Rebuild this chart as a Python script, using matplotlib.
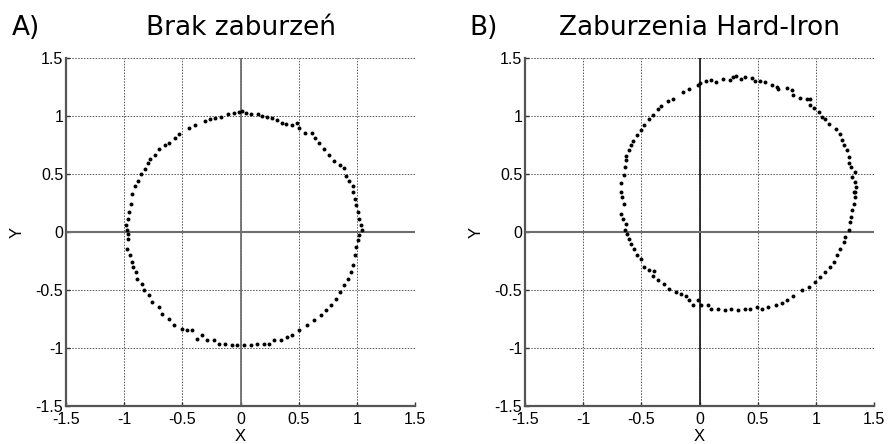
import matplotlib
matplotlib.use("Agg")
import matplotlib.pyplot as plt

# ---- data ----
ticks = [-1.5, -1, -0.5, 0, 0.5, 1, 1.5]
tick_labels = ["-1.5", "-1", "-0.5", "0", "0.5", "1", "1.5"]

titles = ["Brak zaburzeń", "Zaburzenia Hard-Iron"]
panel_labels = ["A)", "B)"]

a_x = [-0.977, -0.983, -0.968, -0.957, -0.940, -0.934, -0.905, -0.882, -0.853, -0.825,
       -0.796, -0.776, -0.739, -0.704, -0.647, -0.618, -0.566, -0.532, -0.440, -0.388,
       -0.307, -0.259, -0.216, -0.164, -0.106, -0.057, -0.014, 0.014, 0.049, 0.086,
       0.152, 0.187, 0.230, 0.273, 0.316, 0.359, 0.394, 0.440, 0.489, 0.503,
       0.555, 0.618, 0.641, 0.675, 0.718, 0.761, 0.805, 0.853, 0.891, 0.911,
       0.934, 0.968, 0.963, 0.986, 0.997, 1.006, 1.020, 1.034, 1.043,
       -0.963, -0.968, -0.977, -0.948, -0.934, -0.920, -0.899, -0.891, -0.848, -0.833,
       -0.790, -0.761, -0.704, -0.675, -0.618, -0.575, -0.503, -0.460, -0.417, -0.374,
       -0.330, -0.287, -0.230, -0.187, -0.129, -0.072, -0.029, 0.029, 0.086, 0.144,
       0.201, 0.244, 0.287, 0.345, 0.402, 0.445, 0.503, 0.575, 0.632, 0.690,
       0.733, 0.776, 0.819, 0.853, 0.891, 0.920, 0.948, 0.968, 0.986, 0.991,
       1.006, 1.020]
a_y = [0.014, 0.057, 0.114, 0.171, 0.243, 0.329, 0.400, 0.443, 0.500, 0.543,
       0.594, 0.629, 0.663, 0.714, 0.749, 0.771, 0.814, 0.843, 0.900, 0.920,
       0.957, 0.977, 0.986, 0.994, 1.014, 1.023, 1.034, 1.043, 1.029, 1.014,
       1.014, 1.000, 0.994, 0.986, 0.966, 0.943, 0.929, 0.923, 0.937, 0.900,
       0.857, 0.857, 0.814, 0.766, 0.714, 0.663, 0.614, 0.577, 0.549, 0.486,
       0.443, 0.400, 0.343, 0.286, 0.229, 0.171, 0.114, 0.057, 0.014,
       -0.014, -0.057, -0.144, -0.201, -0.259, -0.302, -0.345, -0.402, -0.445, -0.503,
       -0.546, -0.603, -0.647, -0.704, -0.747, -0.805, -0.833, -0.848, -0.848, -0.920,
       -0.891, -0.934, -0.928, -0.963, -0.963, -0.977, -0.977, -0.971, -0.971, -0.963,
       -0.963, -0.968, -0.934, -0.928, -0.905, -0.891, -0.848, -0.805, -0.761, -0.718,
       -0.675, -0.632, -0.575, -0.517, -0.460, -0.402, -0.345, -0.287, -0.201, -0.129,
       -0.072, -0.029]

b_x = [-0.677, -0.671, -0.648, -0.643, -0.634, -0.634, -0.605, -0.585, -0.568, -0.533,
       -0.504, -0.476, -0.432, -0.403, -0.360, -0.331, -0.274, -0.231, -0.144, -0.086,
       -0.009, 0.000, 0.058, 0.101, 0.144, 0.202, 0.259, 0.288, 0.317, 0.360,
       0.389, 0.447, 0.476, 0.519, 0.562, 0.620, 0.663, 0.677, 0.749, 0.793,
       0.807, 0.865, 0.922, 0.951, 0.951, 0.988, 1.023, 1.052, 1.081, 1.110,
       1.173, 1.210, 1.225, 1.239, 1.268, 1.282, 1.288, 1.305, 1.340, 1.311,
       1.334, 1.346, 1.326,
       -0.663, -0.648, -0.677, -0.654, -0.634, -0.643, -0.620, -0.605, -0.585, -0.562,
       -0.539, -0.504, -0.476, -0.432, -0.395, -0.403, -0.360, -0.303, -0.259, -0.202,
       -0.159, -0.115, -0.086, -0.058, -0.014, 0.014, 0.072, 0.101, 0.159, 0.216,
       0.274, 0.331, 0.389, 0.432, 0.490, 0.533, 0.591, 0.656, 0.706, 0.749,
       0.807, 0.879, 0.937, 0.994, 1.037, 1.081, 1.124, 1.153, 1.182, 1.210,
       1.239, 1.254, 1.282, 1.297, 1.305, 1.311, 1.326, 1.340, 1.340]
b_y = [0.349, 0.420, 0.491, 0.563, 0.620, 0.657, 0.706, 0.749, 0.783, 0.834,
       0.877, 0.920, 0.977, 1.011, 1.063, 1.086, 1.126, 1.149, 1.211, 1.229,
       1.263, 1.286, 1.306, 1.311, 1.297, 1.320, 1.314, 1.334, 1.349, 1.320,
       1.334, 1.326, 1.306, 1.306, 1.297, 1.269, 1.249, 1.229, 1.240, 1.220,
       1.177, 1.154, 1.149, 1.149, 1.091, 1.069, 1.034, 0.991, 0.977, 0.934,
       0.891, 0.849, 0.791, 0.749, 0.706, 0.649, 0.591, 0.563, 0.514, 0.477,
       0.434, 0.391, 0.349,
       0.302, 0.244, 0.158, 0.115, 0.072, 0.020, -0.014, -0.057, -0.101, -0.144,
       -0.201, -0.230, -0.302, -0.330, -0.336, -0.382, -0.417, -0.445, -0.489, -0.517,
       -0.532, -0.555, -0.589, -0.632, -0.589, -0.632, -0.632, -0.661, -0.661, -0.675,
       -0.661, -0.670, -0.661, -0.661, -0.647, -0.661, -0.647, -0.632, -0.612, -0.589,
       -0.555, -0.503, -0.474, -0.431, -0.388, -0.345, -0.302, -0.259, -0.201, -0.144,
       -0.086, -0.043, 0.014, 0.086, 0.129, 0.187, 0.244, 0.302, 0.345]

series = [(a_x, a_y), (b_x, b_y)]

# ---- figure ----
W, H = 888, 444
fig = plt.figure(figsize=(W / 100, H / 100), dpi=100)

lefts = [66, 525]
ax_w, ax_h = 349, 348
ax_bottom = 444 - 406
zero_colors = [("#6e6e6e", "#6e6e6e"), ("#222222", "#6e6e6e")]
label_x = [12, 469]
tick_font = dict(fontfamily="Liberation Sans", fontsize=11.5)

for i, (xs, ys) in enumerate(series):
    ax = fig.add_axes([lefts[i] / W, ax_bottom / H, ax_w / W, ax_h / H])
    ax.set_xlim(-1.5, 1.5)
    ax.set_ylim(-1.5, 1.5)
    ax.set_xticks(ticks)
    ax.set_yticks(ticks)
    ax.set_xticklabels(tick_labels, **tick_font)
    ax.set_yticklabels(tick_labels, **tick_font)
    ax.tick_params(direction="in", length=3, width=1, colors="#333333",
                   labelcolor="black")
    ax.tick_params(axis="x", pad=4)
    ax.tick_params(axis="y", pad=2)
    ax.grid(True, color="#555555", linestyle=(0, (1.5, 1.5)), linewidth=0.7)
    ax.set_axisbelow(True)
    for s in ("top", "right"):
        ax.spines[s].set_visible(False)
    for s in ("left", "bottom"):
        ax.spines[s].set_color("#555555")
        ax.spines[s].set_linewidth(1.6)
    vcol, hcol = zero_colors[i]
    ax.axvline(0, color=vcol, linewidth=1.3, zorder=1.5)
    ax.axhline(0, color=hcol, linewidth=1.5, zorder=1.5)
    ax.scatter(xs, ys, s=8, color="black", marker="o", linewidths=0, zorder=3)
    ax.set_xlabel("X", fontfamily="Liberation Sans", fontsize=12, labelpad=2)
    ax.set_ylabel("Y", fontfamily="Liberation Sans", fontsize=12, labelpad=8)
    cx = (lefts[i] + ax_w / 2) / W
    fig.text(cx, 1 - 35 / H, titles[i], fontsize=19, fontfamily="DejaVu Sans",
             ha="center", va="baseline")
    fig.text(label_x[i] / W, 1 - 35 / H, panel_labels[i], fontsize=19,
             fontfamily="DejaVu Sans", ha="left", va="baseline")

fig.savefig("out.png", dpi=100, facecolor="white")
